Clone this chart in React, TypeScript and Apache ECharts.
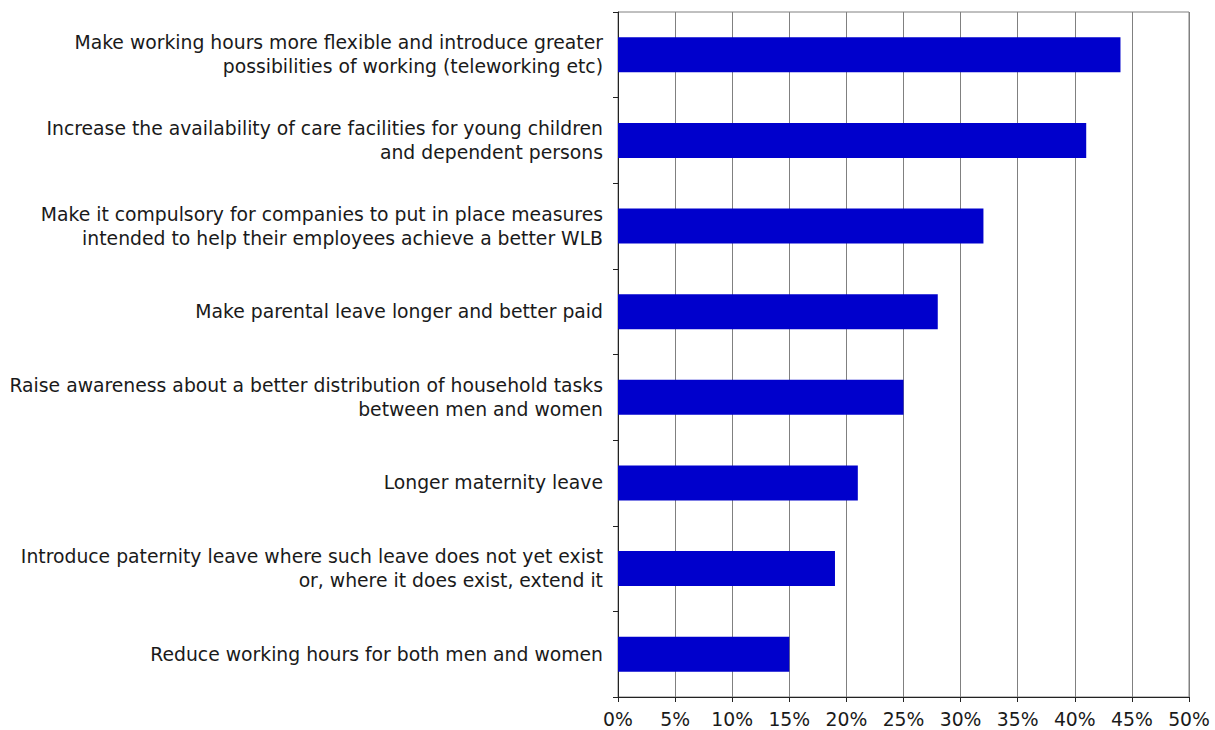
import React, { useEffect, useRef } from "react";
import * as echarts from "echarts";

const categories: string[] = [
  "Make working hours more flexible and introduce greater\npossibilities of working (teleworking etc)",
  "Increase the availability of care facilities for young children\nand dependent persons",
  "Make it compulsory for companies to put in place measures\nintended to help their employees achieve a better WLB",
  "Make parental leave longer and better paid",
  "Raise awareness about a better distribution of household tasks\nbetween men and women",
  "Longer maternity leave",
  "Introduce paternity leave where such leave does not yet exist\nor, where it does exist, extend it",
  "Reduce working hours for both men and women",
];

const values: number[] = [44, 41, 32, 28, 25, 21, 19, 15];

const xMin = 0;
const xMax = 50;
const xStep = 5;

export default function App() {
  const ref = useRef<HTMLDivElement>(null);
  useEffect(() => {
    document.body.style.margin = "0";
    if (!ref.current) return;
    const chart = echarts.init(ref.current, undefined, { renderer: "svg" });
    const font = "DejaVu Sans";
    chart.setOption({
      animation: false,
      backgroundColor: "#ffffff",
      grid: {
        left: 618,
        right: 26,
        top: 12,
        bottom: 33,
        show: true,
        borderColor: "#808080",
        borderWidth: 1,
      },
      xAxis: {
        type: "value",
        min: xMin,
        max: xMax,
        interval: xStep,
        axisLine: { show: true, lineStyle: { color: "#222", width: 1 } },
        axisTick: { show: true, length: 5, lineStyle: { color: "#222" } },
        splitLine: { show: true, lineStyle: { color: "#808080", width: 1 } },
        axisLabel: {
          formatter: "{value}%",
          color: "#1a1a1a",
          fontFamily: font,
          fontSize: 18.8,
          margin: 13,
        },
      },
      yAxis: {
        type: "category",
        inverse: true,
        data: categories,
        axisLine: { show: true, lineStyle: { color: "#222", width: 1 } },
        axisTick: { show: true, length: 5, lineStyle: { color: "#222" } },
        splitLine: { show: false },
        axisLabel: {
          color: "#1a1a1a",
          fontFamily: font,
          fontSize: 18.8,
          lineHeight: 24,
          align: "right",
          margin: 15,
          interval: 0,
        },
      },
      series: [
        {
          type: "bar",
          data: values,
          barWidth: 35,
          itemStyle: { color: "#0000CC" },
        },
      ],
    });
    return () => chart.dispose();
  }, []);
  return <div ref={ref} style={{ width: 1215, height: 730 }} />;
}
